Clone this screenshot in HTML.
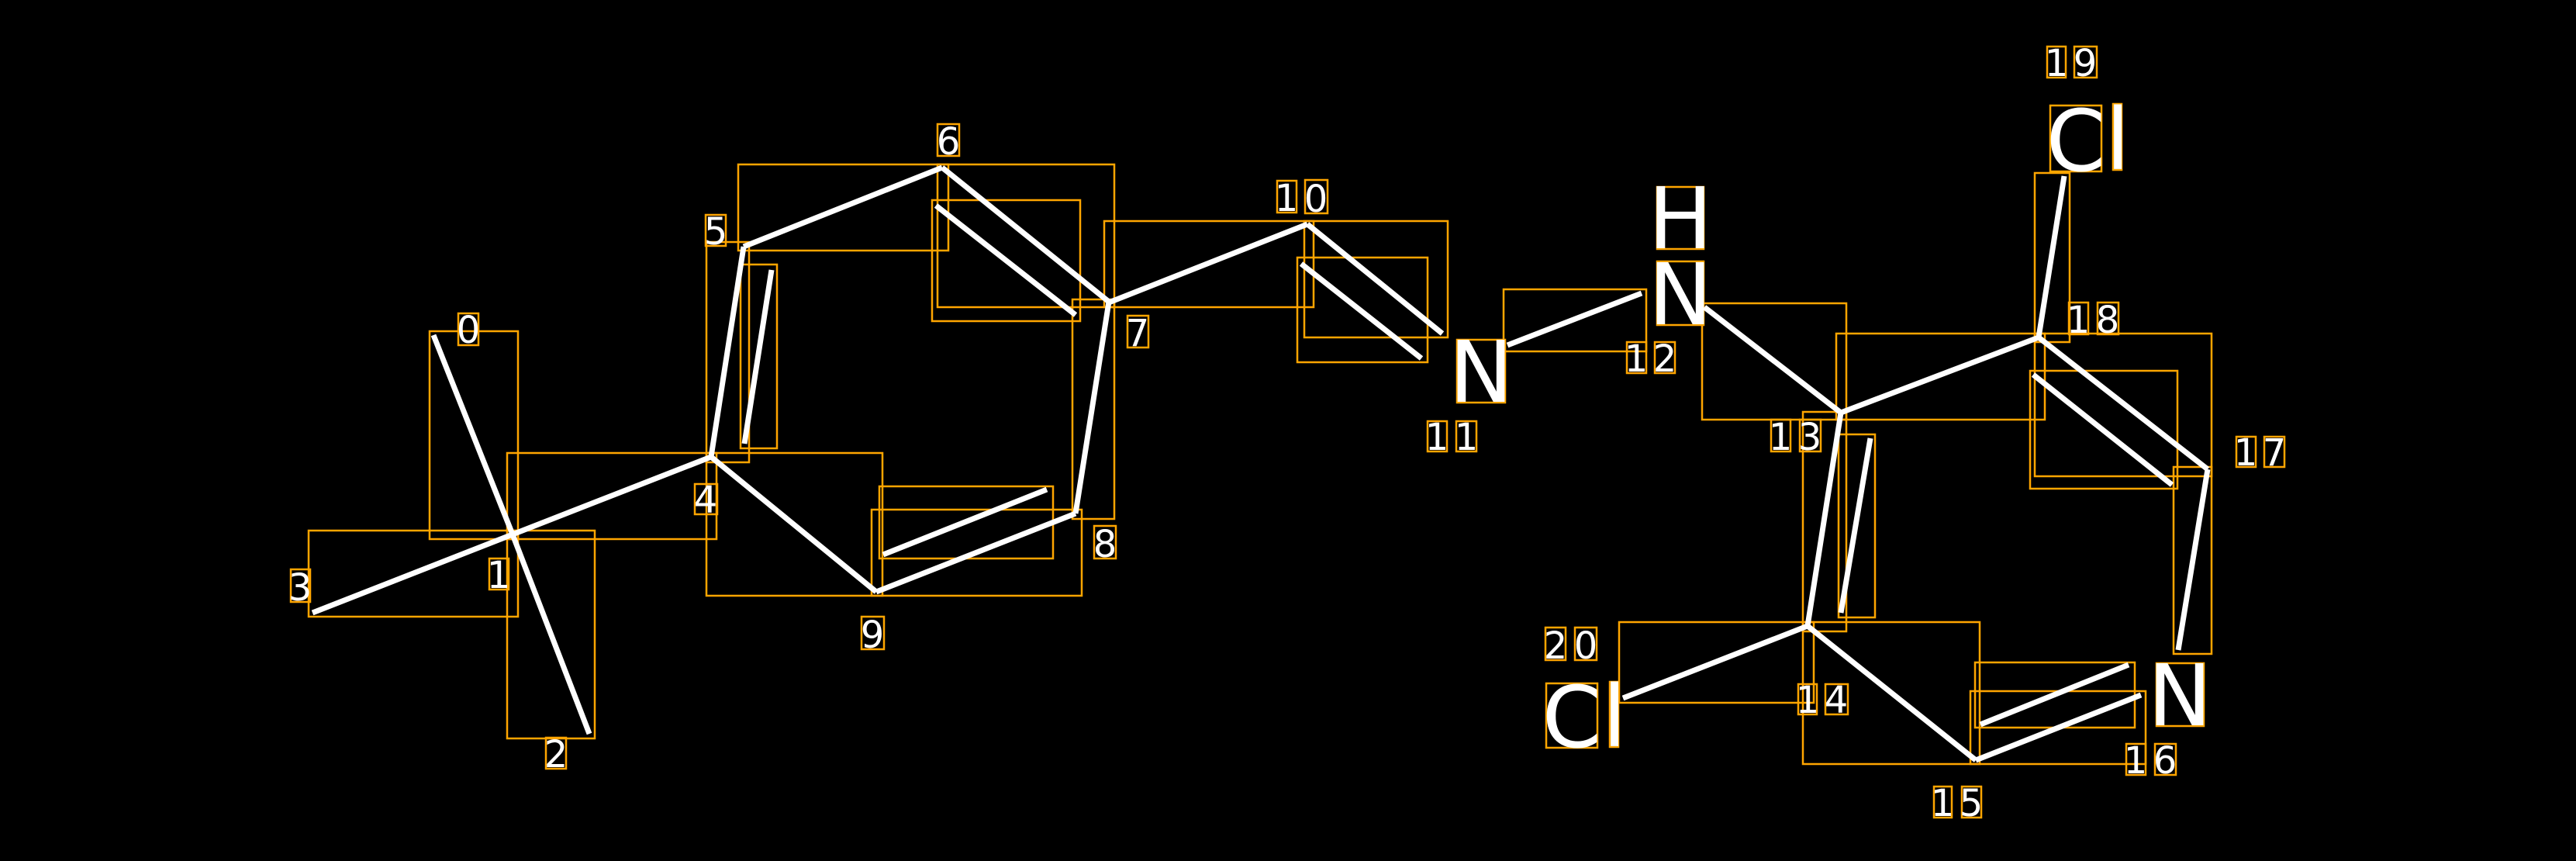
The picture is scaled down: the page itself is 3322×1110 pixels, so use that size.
<!DOCTYPE html>
<html><head><meta charset="utf-8"><style>
html,body{margin:0;padding:0;background:#000;}
svg{display:block;}
text{font-family:"DejaVu Sans","Liberation Sans",sans-serif;fill:#fff;text-anchor:middle;}
</style></head><body>
<svg width="3322" height="1110" viewBox="0 0 3322 1110" xmlns="http://www.w3.org/2000/svg">
<rect width="3322" height="1110" fill="#000"/>
<g fill="none" stroke="#FFA500" stroke-width="2.5">
<rect x="952" y="212" width="271" height="111"/>
<rect x="1209" y="212" width="228" height="184"/>
<rect x="1202" y="258" width="191" height="156"/>
<rect x="911" y="312" width="55" height="284"/>
<rect x="955" y="341" width="47" height="237"/>
<rect x="554" y="427" width="114" height="268"/>
<rect x="398" y="684" width="270" height="111"/>
<rect x="654" y="684" width="113" height="268"/>
<rect x="654" y="584" width="270" height="111"/>
<rect x="911" y="584" width="227" height="184"/>
<rect x="1134" y="627" width="224" height="93"/>
<rect x="1124" y="657" width="271" height="111"/>
<rect x="1383" y="386" width="54" height="283"/>
<rect x="1424" y="285" width="270" height="111"/>
<rect x="1682" y="285" width="185" height="150"/>
<rect x="1673" y="332" width="168" height="135"/>
<rect x="1939" y="373" width="184" height="80"/>
<rect x="2195" y="391" width="186" height="150"/>
<rect x="2368" y="430" width="269" height="111"/>
<rect x="2624" y="223" width="45" height="218"/>
<rect x="2624" y="430" width="228" height="184"/>
<rect x="2618" y="478" width="190" height="152"/>
<rect x="2803" y="602" width="49" height="241"/>
<rect x="2325" y="531" width="56" height="283"/>
<rect x="2371" y="560" width="47" height="236"/>
<rect x="2088" y="802" width="251" height="104"/>
<rect x="2325" y="802" width="228" height="183"/>
<rect x="2547" y="854" width="206" height="84"/>
<rect x="2541" y="891" width="226" height="94"/>
<rect x="591" y="404" width="26" height="41"/>
<rect x="631" y="720" width="25" height="40"/>
<rect x="704" y="951" width="26" height="40"/>
<rect x="375" y="734" width="25" height="42"/>
<rect x="896" y="624" width="29" height="39"/>
<rect x="910" y="277" width="26" height="40"/>
<rect x="1209" y="160" width="28" height="41"/>
<rect x="1454" y="407" width="27" height="41"/>
<rect x="1411" y="678" width="28" height="42"/>
<rect x="1111" y="795" width="29" height="42"/>
<rect x="1647" y="233" width="25" height="41"/>
<rect x="1683" y="232" width="29" height="43"/>
<rect x="1879" y="438" width="62" height="81"/>
<rect x="1841" y="543" width="25" height="39"/>
<rect x="1878" y="543" width="26" height="39"/>
<rect x="2137" y="241" width="60" height="80"/>
<rect x="2137" y="337" width="60" height="82"/>
<rect x="2098" y="441" width="25" height="40"/>
<rect x="2134" y="441" width="26" height="40"/>
<rect x="2284" y="541" width="25" height="41"/>
<rect x="2321" y="541" width="27" height="41"/>
<rect x="2640" y="60" width="24" height="40"/>
<rect x="2675" y="60" width="29" height="40"/>
<rect x="2644" y="136" width="66" height="85"/>
<rect x="2725" y="134" width="11" height="85"/>
<rect x="2668" y="390" width="25" height="41"/>
<rect x="2705" y="390" width="27" height="41"/>
<rect x="2884" y="563" width="25" height="39"/>
<rect x="2920" y="563" width="26" height="39"/>
<rect x="1993" y="809" width="26" height="42"/>
<rect x="2031" y="809" width="28" height="42"/>
<rect x="1994" y="881" width="66" height="83"/>
<rect x="2076" y="879" width="11" height="84"/>
<rect x="2319" y="882" width="24" height="39"/>
<rect x="2354" y="882" width="29" height="39"/>
<rect x="2781" y="855" width="61" height="81"/>
<rect x="2742" y="959" width="25" height="40"/>
<rect x="2779" y="959" width="27" height="40"/>
<rect x="2494" y="1014" width="23" height="40"/>
<rect x="2530" y="1014" width="25" height="40"/>
</g>
<g stroke="#fff" stroke-width="7" fill="none">
<line x1="559" y1="432" x2="661" y2="689"/>
<line x1="661" y1="689" x2="760" y2="946"/>
<line x1="403" y1="790" x2="661" y2="689"/>
<line x1="661" y1="689" x2="917" y2="589"/>
<line x1="917" y1="589" x2="959" y2="318"/>
<line x1="960" y1="572" x2="995" y2="348"/>
<line x1="959" y1="318" x2="1215" y2="216"/>
<line x1="1215" y1="216" x2="1430" y2="389"/>
<line x1="1207" y1="265" x2="1387" y2="406"/>
<line x1="1430" y1="389" x2="1387" y2="662"/>
<line x1="1387" y1="662" x2="1130" y2="763"/>
<line x1="1350" y1="631" x2="1139" y2="715"/>
<line x1="917" y1="589" x2="1130" y2="763"/>
<line x1="1430" y1="390" x2="1686" y2="289"/>
<line x1="1686" y1="289" x2="1860" y2="430"/>
<line x1="1678" y1="340" x2="1833" y2="462"/>
<line x1="1944" y1="445" x2="2117" y2="378"/>
<line x1="2198" y1="396" x2="2374" y2="532"/>
<line x1="2374" y1="532" x2="2629" y2="435"/>
<line x1="2629" y1="435" x2="2662" y2="227"/>
<line x1="2629" y1="435" x2="2847" y2="605"/>
<line x1="2622" y1="483" x2="2801" y2="625"/>
<line x1="2847" y1="605" x2="2809" y2="838"/>
<line x1="2761" y1="896" x2="2548" y2="980"/>
<line x1="2745" y1="857" x2="2554" y2="934"/>
<line x1="2548" y1="980" x2="2331" y2="807"/>
<line x1="2331" y1="807" x2="2093" y2="900"/>
<line x1="2374" y1="532" x2="2331" y2="807"/>
<line x1="2412" y1="565" x2="2374" y2="790"/>
</g>
<g font-size="48">
<text x="604" y="442">0</text>
<text x="643" y="758">1</text>
<text x="717" y="989">2</text>
<text x="387" y="774">3</text>
<text x="910" y="661">4</text>
<text x="923" y="315">5</text>
<text x="1223" y="199">6</text>
<text x="1467" y="446">7</text>
<text x="1425" y="718">8</text>
<text x="1125" y="835">9</text>
<text x="1659" y="272">1</text>
<text x="1697" y="273">0</text>
<text x="1853" y="580">1</text>
<text x="1891" y="580">1</text>
<text x="2110" y="479">1</text>
<text x="2147" y="479">2</text>
<text x="2296" y="580">1</text>
<text x="2334" y="580">3</text>
<text x="2652" y="98">1</text>
<text x="2689" y="98">9</text>
<text x="2680" y="429">1</text>
<text x="2718" y="429">8</text>
<text x="2896" y="600">1</text>
<text x="2933" y="600">7</text>
<text x="2006" y="849">2</text>
<text x="2045" y="849">0</text>
<text x="2331" y="919">1</text>
<text x="2368" y="919">4</text>
<text x="2754" y="997">1</text>
<text x="2792" y="997">6</text>
<text x="2505" y="1052">1</text>
<text x="2542" y="1052">5</text>
</g>
<g font-size="110">
<text x="1910" y="518">N</text>
<text x="2167" y="320">H</text>
<text x="2167" y="418">N</text>
<text x="2677" y="220">C</text>
<text x="2731" y="218">l</text>
<text x="2027" y="963">C</text>
<text x="2082" y="962">l</text>
<text x="2811" y="935">N</text>
</g>
</svg>
</body></html>
